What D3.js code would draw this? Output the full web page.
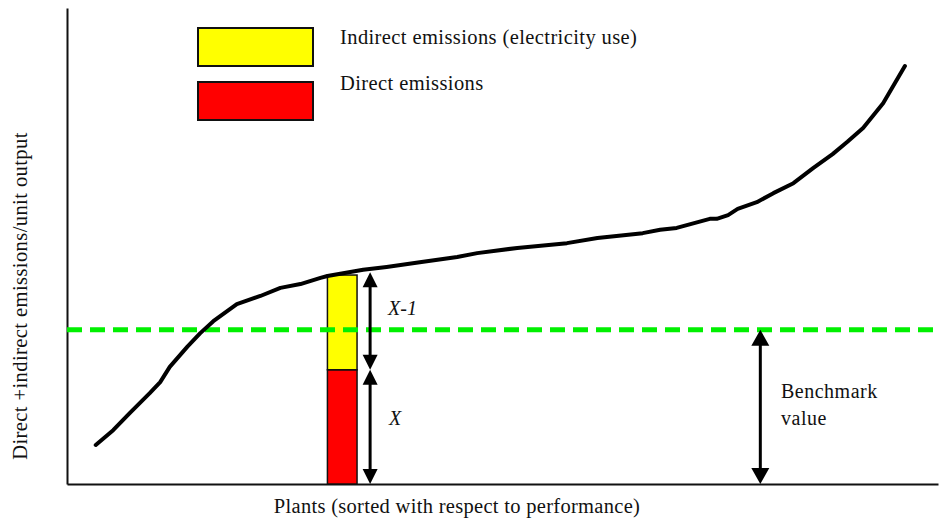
<!DOCTYPE html>
<html>
<head>
<meta charset="utf-8">
<script src="https://cdn.jsdelivr.net/npm/d3@7"></script>
<style>
  html, body { margin: 0; padding: 0; background: #fff; }
  svg { display: block; }
  text { font-family: "Liberation Serif", "Times New Roman", serif; fill: #111; }
</style>
</head>
<body>
<svg id="chart" width="939" height="521"></svg>
<script>
// ---- data (arbitrary units: plant rank 0-100, emissions 0-100) ----
const plantRank = [3.3, 5.3, 7.2, 9.5, 10.7, 11.8, 13.8, 15.3, 16.8, 19.5, 22.2, 24.5, 26.8, 29.1, 29.9, 34.0, 36.7, 40.5, 44.8, 47.1, 51.7, 57.4, 60.9, 66.1, 68.1, 70.0, 73.8, 74.6, 75.9, 77.0, 79.2, 81.1, 83.4, 85.7, 87.9, 89.6, 91.4, 93.7, 96.2];
const emissions = [8.2, 11.3, 14.9, 19.1, 21.4, 24.6, 28.8, 31.7, 34.2, 37.8, 39.5, 41.2, 42.0, 43.3, 43.7, 45.0, 45.6, 46.6, 47.7, 48.5, 49.6, 50.6, 51.7, 52.7, 53.4, 53.8, 55.7, 55.7, 56.5, 57.8, 59.2, 61.1, 63.2, 66.4, 69.3, 71.9, 74.8, 80.0, 87.8];
const benchmarkValue = 32.4;
const barPlant = [29.9, 33.3];      // example plant span
const directValue = 24.0;           // direct emissions (red)
const totalValue = 43.9;            // direct + indirect (top of yellow)
const legendLabels = ["Indirect emissions (electricity use)", "Direct emissions"];
const legendColors = ["#ffff00", "#ff0000"];
const xLabel = "Plants (sorted with respect to performance)";
const yLabel = "Direct +indirect emissions/unit output";

// ---- scales ----
const svg = d3.select("#chart");
const x = d3.scaleLinear().domain([0, 100]).range([67, 938]);
const y = d3.scaleLinear().domain([0, 100]).range([484, 8]);

// ---- axes (no ticks) ----
svg.append("g").attr("transform", `translate(0,${y(0)})`)
  .call(d3.axisBottom(x).ticks(0).tickSizeOuter(0))
  .select(".domain").attr("stroke", "#111").attr("stroke-width", 2);
svg.append("g").attr("transform", `translate(${x(0)},0)`)
  .call(d3.axisLeft(y).ticks(0).tickSizeOuter(0))
  .select(".domain").attr("stroke", "#111").attr("stroke-width", 2);

// ---- stacked bar ----
svg.append("rect")
  .attr("x", x(barPlant[0])).attr("width", x(barPlant[1]) - x(barPlant[0]))
  .attr("y", y(directValue)).attr("height", y(0) - y(directValue))
  .attr("fill", legendColors[1]).attr("stroke", "#111").attr("stroke-width", 1.5);
svg.append("rect")
  .attr("x", x(barPlant[0])).attr("width", x(barPlant[1]) - x(barPlant[0]))
  .attr("y", y(totalValue)).attr("height", y(directValue) - y(totalValue))
  .attr("fill", legendColors[0]).attr("stroke", "#111").attr("stroke-width", 1.5);

// ---- benchmark line ----
svg.append("line")
  .attr("x1", x(0)).attr("x2", x(100))
  .attr("y1", y(benchmarkValue)).attr("y2", y(benchmarkValue))
  .attr("stroke", "#00f000").attr("stroke-width", 5)
  .attr("stroke-dasharray", "15,8");

// ---- curve ----
const pts = plantRank.map((p, i) => [p, emissions[i]]);
svg.append("path")
  .datum(pts)
  .attr("fill", "none").attr("stroke", "#000").attr("stroke-width", 4)
  .attr("stroke-linejoin", "round").attr("stroke-linecap", "round")
  .attr("d", d3.line().x(d => x(d[0])).y(d => y(d[1])));

// ---- double-headed arrows ----
function arrow(px, v1, v2, hw, hh) {
  const cx = x(px), yTop = y(v2), yBot = y(v1);
  svg.append("line").attr("x1", cx).attr("x2", cx)
    .attr("y1", yTop + hh - 1).attr("y2", yBot - hh + 1)
    .attr("stroke", "#000").attr("stroke-width", 3);
  svg.append("path").attr("fill", "#000")
    .attr("d", `M${cx},${yTop} L${cx - hw / 2},${yTop + hh} L${cx + hw / 2},${yTop + hh} Z`);
  svg.append("path").attr("fill", "#000")
    .attr("d", `M${cx},${yBot} L${cx - hw / 2},${yBot - hh} L${cx + hw / 2},${yBot - hh} Z`);
}
arrow(34.8, directValue, totalValue + 0.6, 15, 15);
arrow(34.8, 0, directValue, 15, 15);
arrow(79.6, 0, benchmarkValue, 18, 16);

// ---- annotation labels ----
svg.append("text").attr("x", 388).attr("y", 315).attr("font-style", "italic")
  .attr("font-size", 20).text("X-1");
svg.append("text").attr("x", 389).attr("y", 425).attr("font-style", "italic")
  .attr("font-size", 20).text("X");
svg.append("text").attr("x", 781).attr("y", 398).attr("font-size", 20)
  .attr("letter-spacing", 0.5).text("Benchmark");
svg.append("text").attr("x", 781).attr("y", 425).attr("font-size", 20)
  .attr("letter-spacing", 0.5).text("value");

// ---- legend ----
const legendY = [28, 82];
const legendTextY = [44, 90];
legendLabels.forEach((lab, i) => {
  svg.append("rect").attr("x", 198).attr("y", legendY[i]).attr("width", 115).attr("height", 38)
    .attr("fill", legendColors[i]).attr("stroke", "#111").attr("stroke-width", 2);
  svg.append("text").attr("x", 340).attr("y", legendTextY[i]).attr("font-size", 20.5)
    .attr("letter-spacing", 0.4).text(lab);
});

// ---- axis titles ----
svg.append("text").attr("x", 457).attr("y", 513).attr("text-anchor", "middle")
  .attr("font-size", 20.5).attr("letter-spacing", 0.3).text(xLabel);
svg.append("text").attr("transform", "translate(27,296) rotate(-90)")
  .attr("text-anchor", "middle").attr("font-size", 20.5).attr("letter-spacing", 0.42).text(yLabel);
</script>
</body>
</html>
